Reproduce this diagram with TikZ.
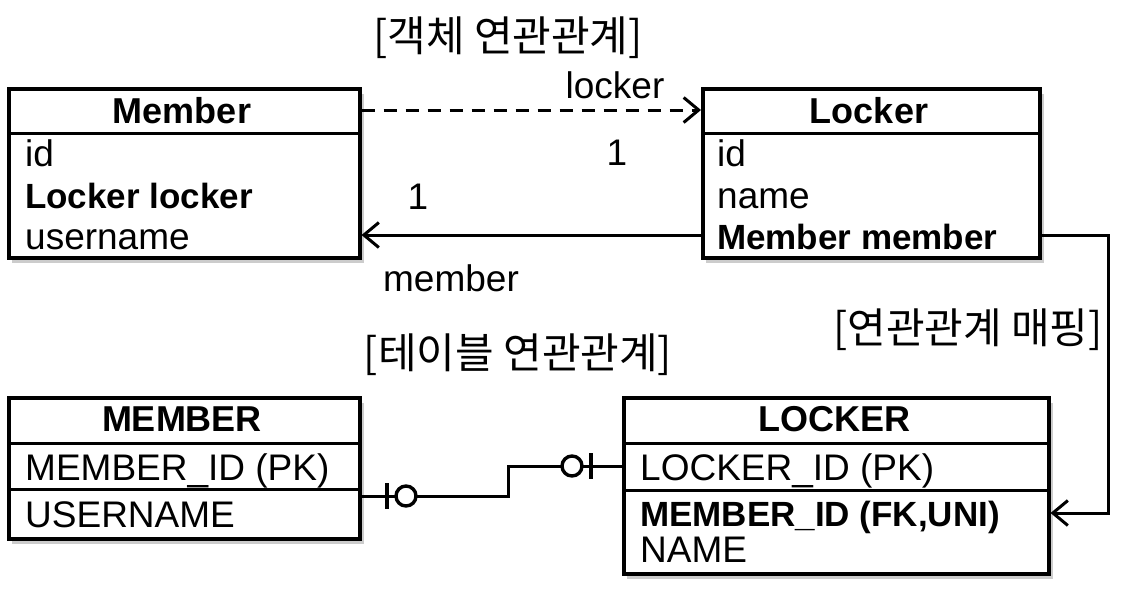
\documentclass[tikz,border=0pt]{standalone}
\usepackage{fontspec}
\setmainfont{Liberation Sans}
\newfontfamily\kr{Noto Sans CJK KR}
\usetikzlibrary{arrows.meta}
\begin{document}
\begin{tikzpicture}[x=1pt,y=-1pt,
  box/.style={draw=black,line width=3.5pt,fill=white,anchor=north west,inner sep=0pt},
  shadowbox/.style={fill=black!50,draw=none},
  shadowsoft/.style={fill=black!20,draw=none},
  hdr/.style={inner sep=0pt,text height=26pt,text depth=0pt,font=\fontsize{36}{40}\selectfont\bfseries},
  txt/.style={anchor=west,inner sep=0pt,text height=26pt,text depth=0pt,font=\fontsize{37}{40}\selectfont},
  btxt/.style={txt,font=\fontsize{35}{40}\selectfont\bfseries},
  lbl/.style={inner sep=0pt,font=\fontsize{37}{40}\selectfont},
  krl/.style={inner sep=0pt,font=\kr\fontsize{42}{46}\selectfont},
  conn/.style={line width=3pt},
  tip/.style={-{Straight Barb[length=15pt,width=25pt,line width=3pt]}},
  bar/.style={line width=3.5pt},
  ring/.style={circle,draw=black,line width=3.4pt,fill=white,minimum size=20pt,inner sep=0pt}
]
\useasboundingbox[fill=white] (0,0) rectangle (1131,603);

% shadows
\foreach \a/\b/\c/\d in {7/87/358/256, 701/87/1038/256, 7/396/358/537, 622/396/1047/572}{
  \fill[shadowsoft] (\a+5,\b+7) rectangle (\c+6,\d+7);
  \fill[shadowbox] (\a+2,\b+3) rectangle (\c+3,\d+4);
}

% boxes
\node[box,minimum width=351pt,minimum height=169pt] (member) at (7,87) {};
\node[box,minimum width=337pt,minimum height=169pt] (locker) at (701,87) {};
\node[box,minimum width=351pt,minimum height=141pt] (MEMBER) at (7,396) {};
\node[box,minimum width=425pt,minimum height=176pt] (LOCKER) at (622,396) {};

% dividers
\draw[line width=3pt] (member.west |- 0,133) -- (member.east |- 0,133);
\draw[line width=3pt] (locker.west |- 0,133) -- (locker.east |- 0,133);
\draw[line width=3pt] (MEMBER.west |- 0,443) -- (MEMBER.east |- 0,443);
\draw[line width=3pt] (MEMBER.west |- 0,489) -- (MEMBER.east |- 0,489);
\draw[line width=3pt] (LOCKER.west |- 0,443) -- (LOCKER.east |- 0,443);
\draw[line width=3pt] (LOCKER.west |- 0,490) -- (LOCKER.east |- 0,490);

% texts
\node[hdr] (mh) at (182,110) {Member};
\node[txt] (m1) at (25,153) {id};
\node[btxt] (m2) at (25,195) {Locker locker};
\node[txt] (m3) at (25,236) {username};

\node[hdr] (lh) at (869,110) {Locker};
\node[txt] (l1) at (717,153) {id};
\node[txt] (l2) at (717,195) {name};
\node[btxt] (l3) at (717,236) {Member member};

\node[hdr] (Mh) at (182,418) {MEMBER};
\node[txt] (M1) at (25,467) {MEMBER\_ID (PK)};
\node[txt] (M2) at (25,514) {USERNAME};

\node[hdr] (Lh) at (834,418) {LOCKER};
\node[txt] (L1) at (640,467) {LOCKER\_ID (PK)};
\node[btxt] (L2) at (640,513) {MEMBER\_ID (FK,UNI)};
\node[txt] (L3) at (640,549) {NAME};

% labels
\node[krl] (t1) at (508,38) {[객체 연관관계]};
\node[krl] (t2) at (518,355) {[테이블 연관관계]};
\node[krl] (t3) at (968,330) {[연관관계 매핑]};
\node[lbl] (lk) at (615,85) {locker};
\node[lbl] (mb) at (451,278) {member};
\node[lbl] (one1) at (617,153) {1};
\node[lbl] (one2) at (418,197) {1};

% object association arrows
\draw[conn,tip,dash pattern=on 13pt off 9pt] (member.east |- 0,110) -- (locker.west |- 0,110);
\draw[conn,tip] (locker.west |- 0,235) -- (member.east |- 0,235);

% mapping arrow
\coordinate (c1) at (1108,235);
\coordinate (c2) at (1108,513);
\draw[conn,tip] (locker.east |- c1) -- (c1) -- (c2) -- (LOCKER.east |- c2);

% table relation
\coordinate (k1) at (508,496);
\coordinate (k2) at (508,466);
\draw[conn] (MEMBER.east |- k1) -- (k1) -- (k2) -- (LOCKER.west |- k2);
\draw[bar] (387,483) -- (387,509);
\node[ring] (r1) at (406,496) {};
\draw[bar] (591,453) -- (591,479);
\node[ring] (r2) at (572,466) {};
\end{tikzpicture}
\end{document}
